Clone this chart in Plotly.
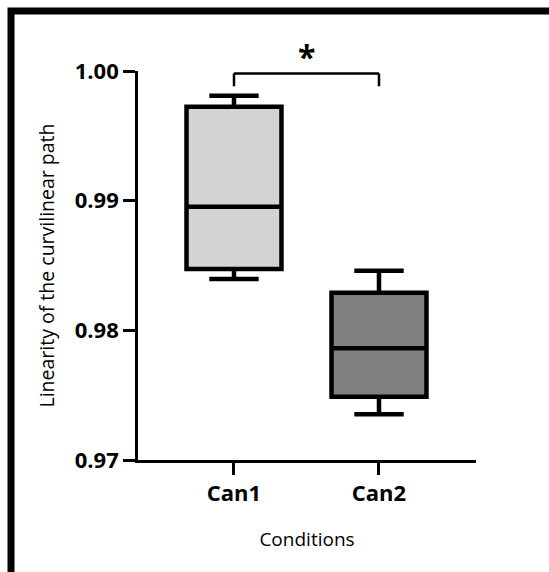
import plotly.graph_objects as go

categories = ["Can1", "Can2"]
lower_whisker = [0.98396, 0.97352]
q1_vals = [0.98473, 0.97488]
medians = [0.98954, 0.97861]
q3_vals = [0.99725, 0.98290]
upper_whisker = [0.99810, 0.98460]
fill_colors = ["#d3d3d3", "#808080"]

y_ticks = [0.97, 0.98, 0.99, 1.00]
y_range = [0.97, 1.00]
x_title = "Conditions"
y_title = "Linearity of the curvilinear path"

bracket_top = 0.99981
bracket_leg = 0.99882
sig_label = "*"

FONT = "Open Sans"

fig = go.Figure()
for i, cat in enumerate(categories):
    fig.add_trace(go.Box(
        x=[cat],
        q1=[q1_vals[i]], median=[medians[i]], q3=[q3_vals[i]],
        lowerfence=[lower_whisker[i]], upperfence=[upper_whisker[i]],
        fillcolor=fill_colors[i],
        line=dict(color="black", width=4.5),
        width=0.655,
        whiskerwidth=0.52,
        boxpoints=False,
        showlegend=False,
        hoverinfo="skip",
    ))

# significance bracket
fig.add_shape(type="line", xref="x", yref="y",
              x0=categories[0], x1=categories[0], y0=bracket_leg, y1=bracket_top,
              line=dict(color="black", width=2.5))
fig.add_shape(type="line", xref="x", yref="y",
              x0=categories[0], x1=categories[1], y0=bracket_top, y1=bracket_top,
              line=dict(color="black", width=2.5))
fig.add_shape(type="line", xref="x", yref="y",
              x0=categories[1], x1=categories[1], y0=bracket_leg, y1=bracket_top,
              line=dict(color="black", width=2.5))
fig.add_annotation(x=0.5, xref="x", y=1.037, yref="paper", text=sig_label,
                   showarrow=False, xanchor="center", yanchor="middle",
                   font=dict(family=FONT, size=32, color="black", weight="bold"))

# outer frame (top and left edges visible)
L, R, T, B = 138, 73, 71, 112
W, H = 549, 572
pw, ph = W - L - R, H - T - B
fx = (11 - L) / pw
fy = (H - B - 11) / ph
fig.add_shape(type="rect", xref="paper", yref="paper",
              x0=fx, x1=3, y0=-3, y1=fy,
              line=dict(color="black", width=7), fillcolor="rgba(0,0,0,0)")

fig.update_layout(
    width=W, height=H,
    margin=dict(l=L, r=R, t=T, b=B),
    paper_bgcolor="white", plot_bgcolor="white",
    font=dict(family=FONT, color="black"),
    xaxis=dict(
        type="category",
        range=[-0.662, 1.669],
        showline=True, linecolor="black", linewidth=2.7,
        ticks="outside", ticklen=12, tickwidth=2.7, tickcolor="black",
        tickfont=dict(family=FONT, size=22, color="black", weight="bold"),
        showgrid=False, zeroline=False,
        title=dict(text=x_title, font=dict(family=FONT, size=19, color="black"), standoff=27),
    ),
    yaxis=dict(
        range=y_range,
        tickvals=y_ticks, tickformat=".2f",
        showline=True, linecolor="black", linewidth=2.7,
        ticks="outside", ticklen=12, tickwidth=2.7, tickcolor="black",
        tickfont=dict(family=FONT, size=22, color="black", weight="bold"),
        showgrid=False, zeroline=False,
        title=dict(text=y_title, font=dict(family=FONT, size=19.5, color="black"), standoff=15),
    ),
)

fig.write_html("out.html")
